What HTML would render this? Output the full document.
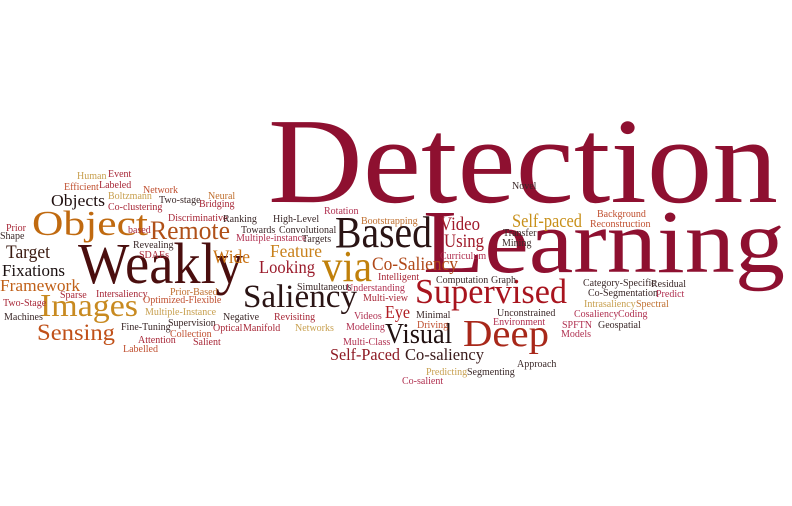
<!DOCTYPE html>
<html><head><meta charset="utf-8"><style>
html,body{margin:0;padding:0;background:#fff;}
svg{display:block;}
text{font-family:"Liberation Serif",serif;}
</style></head><body>
<svg id="cloud" width="792" height="506" viewBox="0 0 792 506" xmlns="http://www.w3.org/2000/svg"></svg>
<script>
// word, x, baseline, size, color, width(optional)
const words = [
["Detection",268,202,122,"#8e1030",510],
["Learning",423,272,90,"#8e1030",362],
["Weakly",78,283,58,"#4a0e0e",165],
["Object",32,235,35,"#c06a10",116],
["Images",40,316,32,"#c88a20",98],
["Sensing",37,340,23,"#c05018",78],
["Remote",150,239,26,"#b05018",80],
["Based",335,247,44,"#2a1414",97],
["via",322,281,44,"#c0800a",50],
["Saliency",243,307,33,"#2a1414",114],
["Supervised",415,303,35,"#a8141e",152],
["Deep",463,346,38,"#a8281a",86],
["Visual",385,343,28,"#201010",67],
["Self-Paced",330,360,17,"#8e1a24",70],
["Co-saliency",405,360,17,"#3a1a1a",79],
["Video",440,230,19,"#a01a2a",40],
["Using",444,247,19,"#a01a2a",40],
["Self-paced",512,227,19,"#c8901a",70],
["Co-Saliency",372,270,19,"#b04818",86],
["Feature",270,257,18,"#c8801a",52],
["Looking",259,273,18,"#9a1a2a",56],
["Wide",213,263,19,"#c87010",37],
["Eye",385,318,18,"#b01a20",25],
["Target",6,258,19,"#3a1a10",44],
["Fixations",2,276,17,"#1a1010",63],
["Framework",0,291,17,"#c06018",80],
["Objects",51,206,17,"#201010",54],
["Human",77,179,10,"#c8a050"],
["Event",108,177,10,"#a82838"],
["Efficient",64,190,10,"#c05030"],
["Labeled",99,188,10,"#a82838"],
["Network",143,193,10,"#c05030"],
["Boltzmann",108,199,10,"#c8a050"],
["Neural",208,199,10,"#c07030"],
["Two-stage",159,203,10,"#3a2828"],
["Bridging",199,207,10,"#a82838"],
["Co-clustering",108,210,10,"#a82838"],
["Discriminative",168,221,10,"#a82838"],
["Ranking",223,222,10,"#3a2828"],
["Prior",6,231,10,"#a82838"],
["Shape",0,239,10,"#3a2828"],
["based",128,233,10,"#a82838"],
["Towards",241,233,10,"#3a2828"],
["Multiple-instance",236,241,10,"#b03050"],
["Revealing",133,248,10,"#3a2828"],
["SDAEs",139,258,10,"#a82838"],
["Sparse",60,298,10,"#a82838"],
["Intersaliency",96,297,10,"#a82838"],
["Prior-Based",170,295,10,"#c07030"],
["Two-Stage",3,306,10,"#a82838"],
["Optimized-Flexible",143,303,10,"#c05030"],
["Multiple-Instance",145,315,10,"#c8a050"],
["Machines",4,320,10,"#3a2828"],
["Negative",223,320,10,"#3a2828"],
["Supervision",168,326,10,"#3a2828"],
["Fine-Tuning",121,330,10,"#3a2828"],
["Optical",213,331,10,"#a82838"],
["Manifold",243,331,10,"#a82838"],
["Collection",170,337,10,"#c05030"],
["Attention",138,343,10,"#a82838"],
["Salient",193,345,10,"#a82838"],
["Labelled",123,352,10,"#c05030"],
["Rotation",324,214,10,"#b03050"],
["High-Level",273,222,10,"#3a2828"],
["Convolutional",279,233,10,"#3a2828"],
["Targets",302,242,10,"#3a2828"],
["Bootstrapping",361,224,10,"#c07030"],
["Curriculum",440,259,10,"#b03050"],
["Intelligent",378,280,10,"#a82838"],
["Computation",436,283,10,"#3a2828"],
["Graph",491,283,10,"#3a2828"],
["Simultaneous",297,290,10,"#3a2828"],
["Understanding",346,291,10,"#b03050"],
["Multi-view",363,301,10,"#a82838"],
["Revisiting",274,320,10,"#a82838"],
["Videos",354,319,10,"#b03050"],
["Minimal",416,318,10,"#3a2828"],
["Networks",295,331,10,"#c8a050"],
["Modeling",346,330,10,"#b03050"],
["Driving",417,328,10,"#c05030"],
["Multi-Class",343,345,10,"#b03050"],
["Predicting",426,375,10,"#c8a050"],
["Segmenting",467,375,10,"#3a2828"],
["Co-salient",402,384,10,"#b03050"],
["Novel",512,189,10,"#3a2828"],
["Background",597,217,10,"#c05030"],
["Reconstruction",590,227,10,"#c05030"],
["Transfer",503,236,10,"#3a2828"],
["Mining",502,246,10,"#3a2828"],
["Category-Specific",583,286,10,"#3a2828"],
["Residual",651,287,10,"#3a2828"],
["Co-Segmentation",588,296,10,"#3a2828"],
["Predict",656,297,10,"#b03050"],
["Intrasaliency",584,307,10,"#c8a050"],
["Spectral",636,307,10,"#c07030"],
["Unconstrained",497,316,10,"#3a2828"],
["Cosaliency",574,317,10,"#b03050"],
["Coding",618,317,10,"#b03050"],
["Environment",493,325,10,"#b03050"],
["SPFTN",562,328,10,"#b03050"],
["Geospatial",598,328,10,"#3a2828"],
["Models",561,337,10,"#b03050"],
["Approach",517,367,10,"#3a2828"]
];
const svg = document.getElementById('cloud');
const NS = "http://www.w3.org/2000/svg";
for (const w of words) {
  const t = document.createElementNS(NS, 'text');
  t.setAttribute('x', w[1]);
  t.setAttribute('y', w[2]);
  t.setAttribute('font-size', w[3]);
  t.setAttribute('fill', w[4]);
  if (w[5]) { t.setAttribute('textLength', w[5]); t.setAttribute('lengthAdjust', 'spacingAndGlyphs'); }
  t.textContent = w[0];
  
  
  svg.appendChild(t);
}
</script>
</body></html>
